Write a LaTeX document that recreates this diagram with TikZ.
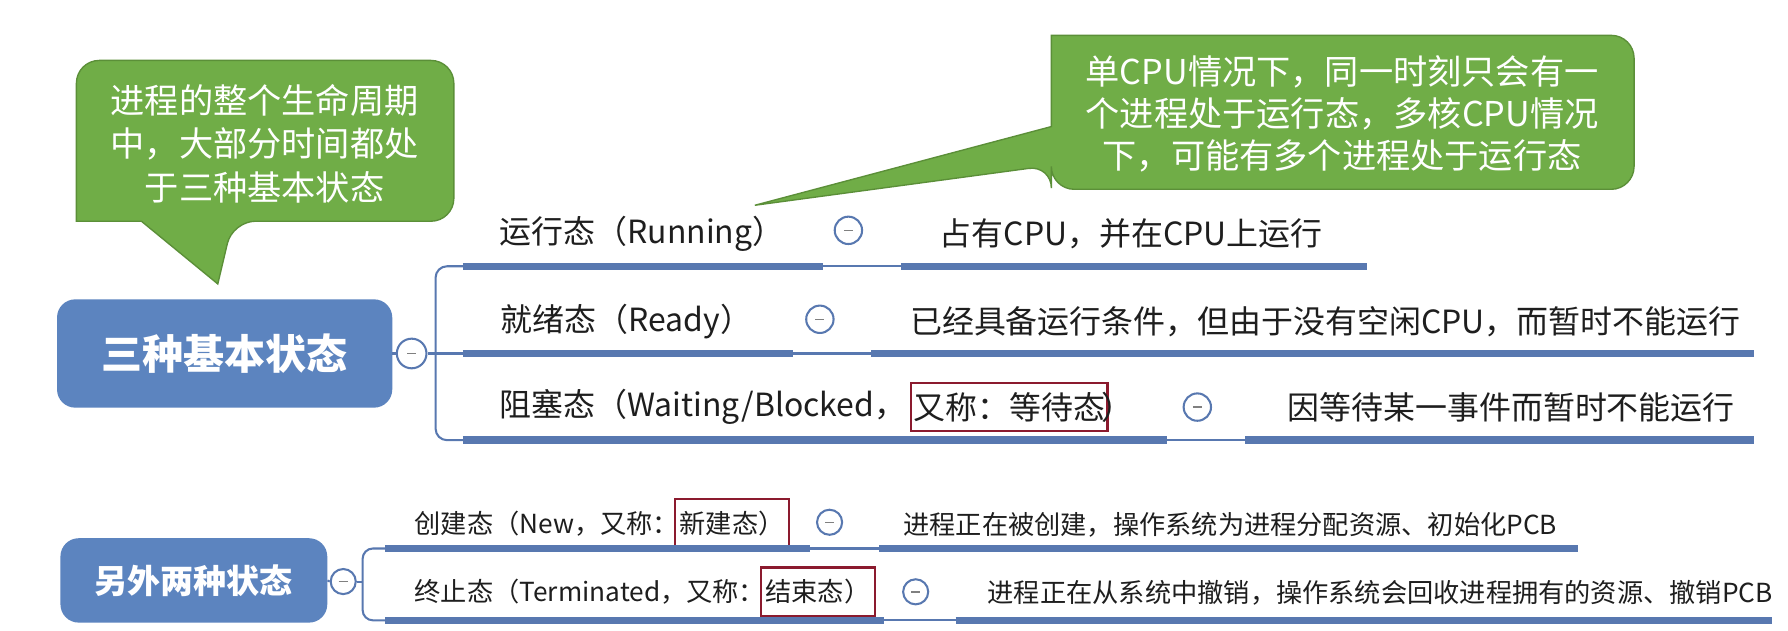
\documentclass[tikz,border=0pt]{standalone}
\usepackage{fontspec}
\setmainfont{Noto Sans CJK SC}
\definecolor{lineblue}{HTML}{5878B0}
\definecolor{boxblue}{HTML}{5C84BF}
\definecolor{bubgreen}{HTML}{70AD47}
\definecolor{bubedge}{HTML}{5B8F38}
\definecolor{boxred}{HTML}{8B1A2E}
\definecolor{txt}{HTML}{1E1E1E}
\tikzset{
  lbl/.style={inner sep=0pt, text=txt, font=\fontsize{28}{32}\selectfont},
  lblsm/.style={inner sep=0pt, text=txt, font=\fontsize{23}{27}\selectfont},
  thickln/.style={line width=6.5pt, draw=lineblue},
  conn/.style={line width=1.8pt, draw=lineblue},
  toggle/.style={circle, draw=lineblue, line width=1.8pt, fill=white, minimum size=#1, inner sep=0pt,
    path picture={\draw[line width=1.2pt, draw=gray] ([xshift=-4pt]path picture bounding box.center) -- ([xshift=4pt]path picture bounding box.center);}},
  toggle/.default=24pt,
  markbox/.style={draw=boxred, line width=2.2pt},
  bubble/.style={fill=bubgreen, draw=bubedge, line width=1.2pt},
  bubtext/.style={text=white, align=center},
  mainbox/.style={fill=boxblue, rounded corners=16pt, text=white, inner sep=0pt},
}
\begin{document}
\begin{tikzpicture}[x=1pt,y=-1pt]
\useasboundingbox[fill=white] (0,0) rectangle (1568,553);

% ---------- speech bubbles ----------
\draw[bubble] (232,53) [rounded corners=20pt] -- (398,53) -- (398,194) -- (204,194) [sharp corners] -- (191,249) -- (124,194) -- (67,194) [rounded corners=20pt] -- (67,53) -- cycle;
\node[bubtext, font=\fontsize{30}{38}\selectfont] (note1) at (232,126) {进程的整个生命周期\\中，大部分时间都处\\于三种基本状态};

\draw[bubble] (1177,31) [rounded corners=20pt] -- (1433,31) -- (1433,166) -- (922,166) -- (922,145) [sharp corners] -- (662,180) -- (922,111) -- (922,31) [rounded corners=20pt] -- cycle;
\node[bubtext, font=\fontsize{30}{37}\selectfont] (note2) at (1177,100) {单CPU情况下，同一时刻只会有一\\个进程处于运行态，多核CPU情况\\下，可能有多个进程处于运行态};

% ---------- main topic 1 ----------
\node[mainbox, minimum width=294pt, minimum height=95pt, font=\fontsize{36}{40}\selectfont\bfseries] (main) at (197,310) {三种基本状态};
\node[toggle=26pt] (mc) at (361,310) {};
\draw[conn] (main.east) -- (mc.west);

\coordinate (u1a) at (406,233.5);
\coordinate (u2a) at (406,310);
\coordinate (u3a) at (406,386);
\draw[conn, rounded corners=10pt] (u1a) -- (382,233.5) -- (382,386) -- (u3a);
\draw[conn] (mc.east) -- (u2a);

% row 1
\node[lbl, anchor=west] (l1) at (438,205) {运行态（Running）};
\node[toggle] (t1) at (744,202) {};
\node[lbl, anchor=west] (d1) at (824,205) {占有CPU，并在CPU上运行};
\coordinate (u1b) at (722,233.5); \coordinate (u1c) at (790,233.5); \coordinate (u1d) at (1199,233.5);
\draw[thickln] (u1a) -- (u1b);
\draw[conn] (u1b) -- (u1c);
\draw[thickln] (u1c) -- (u1d);

% row 2
\node[lbl, anchor=west] (l2) at (439,282) {就绪态（Ready）};
\node[toggle] (t2) at (719,280) {};
\node[lbl, anchor=west] (d2) at (798,282) {已经具备运行条件，但由于没有空闲CPU，而暂时不能运行};
\coordinate (u2b) at (695,310); \coordinate (u2c) at (764,310); \coordinate (u2d) at (1538,310);
\draw[thickln] (u2a) -- (u2b);
\draw[conn] (u2b) -- (u2c);
\draw[thickln] (u2c) -- (u2d);

% row 3
\node[lbl, anchor=west] (l3a) at (438,357) {阻塞态（Waiting/Blocked，};
\node[lbl, markbox, anchor=west, inner xsep=2pt, inner ysep=8pt] (l3b) at ([xshift=3pt]l3a.east) {又称：等待态};
\node[lbl, anchor=west] (l3c) at ([xshift=-6pt]l3b.east) {）};
\node[toggle] (t3) at (1050,357) {};
\node[lbl, anchor=west] (d3) at (1129,357) {因等待某一事件而暂时不能运行};
\coordinate (u3b) at (1023,386); \coordinate (u3c) at (1092,386); \coordinate (u3d) at (1538,386);
\draw[thickln] (u3a) -- (u3b);
\draw[conn] (u3b) -- (u3c);
\draw[thickln] (u3c) -- (u3d);

% ---------- main topic 2 ----------
\node[mainbox, minimum width=234pt, minimum height=74pt, font=\fontsize{29}{33}\selectfont\bfseries] (other) at (170,509) {另外两种状态};
\node[toggle=22pt] (oc) at (301,510) {};
\draw[conn] (other.east) -- (oc.west);

\coordinate (u4a) at (338,481);
\coordinate (u5a) at (338,544);
\draw[conn, rounded corners=9pt] (u4a) -- (318,481) -- (318,544) -- (u5a);
\draw[conn] (oc.east) -- (318,510);

% row 4
\node[lblsm, anchor=west] (l4a) at (363.5,459) {创建态（New，又称：};
\node[lblsm, markbox, anchor=west, inner xsep=4pt, inner ysep=10.5pt] (l4b) at ([xshift=-5pt]l4a.east) {新建态）};
\node[toggle=22pt] (t4) at (727.5,458) {};
\node[lblsm, anchor=west] (d4) at (792,460) {进程正在被创建，操作系统为进程分配资源、初始化PCB};
\coordinate (u4b) at (710,481); \coordinate (u4c) at (771,481); \coordinate (u4d) at (1384,481);
\draw[thickln] (u4a) -- (u4b);
\draw[conn] (u4b) -- (u4c);
\draw[thickln] (u4c) -- (u4d);

% row 5
\node[lblsm, anchor=west] (l5a) at (363.5,519) {终止态（Terminated，又称：};
\node[lblsm, markbox, anchor=west, inner xsep=4pt, inner ysep=10.5pt] (l5b) at ([xshift=-5pt]l5a.east) {结束态）};
\node[toggle=22pt] (t5) at (803,519) {};
\node[lblsm, anchor=west] (d5) at (866,520) {进程正在从系统中撤销，操作系统会回收进程拥有的资源、撤销PCB};
\coordinate (u5b) at (775,544); \coordinate (u5c) at (838,544); \coordinate (u5d) at (1554,544);
\draw[thickln] (u5a) -- (u5b);
\draw[conn] (u5b) -- (u5c);
\draw[thickln] (u5c) -- (u5d);
\end{tikzpicture}
\end{document}
